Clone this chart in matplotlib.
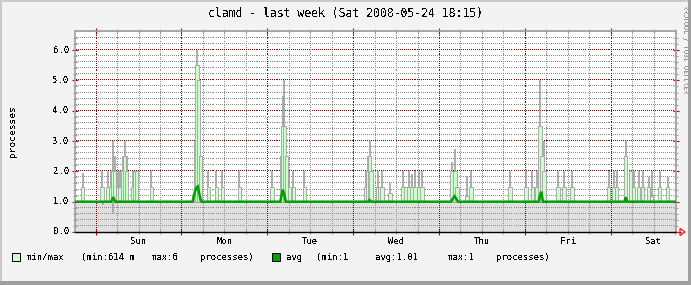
import matplotlib
matplotlib.use("Agg")
import matplotlib.pyplot as plt
from matplotlib.patches import Rectangle, Polygon
from matplotlib.lines import Line2D
import numpy as np

plt.rcParams["text.antialiased"] = False

W, H = 691, 285

# days counted from Sunday 00:00, chart ends Sat 2008-05-24 18:15
x_start, x_end = -0.24, 6.76
y_top = 6.63
day_names = ["Sun", "Mon", "Tue", "Wed", "Thu", "Fri", "Sat"]
y_ticks = [0, 1, 2, 3, 4, 5, 6]

# spikes: position (day), top of min/max area, max (gray)
spike_day = [-0.151, 0.076, 0.140, 0.174, 0.201, 0.221, 0.256, 0.279, 0.314, 0.337,
             0.360, 0.430, 0.453, 0.477, 0.651,
             1.163, 1.180, 1.198, 1.221, 1.314, 1.407, 1.477, 1.674,
             2.052, 2.163, 2.180, 2.198, 2.221, 2.256, 2.302, 2.430,
             3.151, 3.174, 3.192, 3.209, 3.291, 3.314, 3.337, 3.430, 3.581, 3.616,
             3.651, 3.686, 3.721, 3.767, 3.802,
             4.151, 4.186, 4.209, 4.326, 4.372, 4.826,
             5.012, 5.087, 5.140, 5.174, 5.198, 5.221, 5.384, 5.453, 5.547,
             5.977, 6.035, 6.070, 6.174, 6.233, 6.267, 6.326, 6.372, 6.442, 6.477,
             6.570, 6.663]
spike_top = [1.5, 1.5, 1.5, 1.5, 2.0, 2.0, 1.5, 1.5, 2.0, 2.5,
             2.0, 1.5, 2.0, 2.0, 1.5,
             2.5, 5.5, 5.0, 2.5, 1.5, 1.5, 1.5, 1.5,
             1.5, 2.0, 3.5, 3.5, 2.5, 1.5, 1.5, 1.5,
             1.5, 2.0, 2.5, 2.0, 1.5, 1.5, 1.5, 1.3, 1.5, 1.5,
             1.5, 1.5, 1.5, 1.5, 1.5,
             2.0, 2.0, 1.5, 1.2, 1.5, 1.5,
             1.5, 1.5, 1.5, 3.5, 2.5, 2.0, 1.5, 1.5, 1.5,
             1.5, 1.5, 1.5, 2.5, 2.0, 1.5, 1.5, 1.5, 1.5, 1.2,
             1.5, 1.5]
spike_max = [1.95, 2.0, 2.0, 2.0, 3.0, 2.5, 2.0, 2.0, 2.5, 3.0,
             2.5, 2.0, 2.0, 2.0, 2.0,
             3.0, 6.0, 5.5, 2.5, 2.0, 2.0, 2.0, 2.0,
             2.0, 2.5, 4.5, 5.0, 2.5, 2.0, 2.0, 2.0,
             2.0, 2.5, 3.0, 2.0, 2.0, 1.5, 2.0, 1.6, 2.0, 1.5,
             2.0, 1.9, 2.0, 2.0, 2.0,
             2.3, 2.75, 1.9, 1.85, 2.0, 2.0,
             2.0, 2.0, 2.0, 5.0, 3.0, 3.0, 2.0, 2.0, 2.0,
             2.0, 2.0, 2.0, 3.0, 2.0, 2.0, 2.0, 2.0, 1.8, 2.0,
             2.0, 1.8]

# minimum dips below 1
dip_day = [0.081, 0.198]
dip_min = [0.9, 0.62]

# avg line
avg_day = [-0.24, 0.18, 0.19, 0.205, 0.22, 0.23,
           1.13, 1.14, 1.155, 1.17, 1.19, 1.205, 1.22, 1.235,
           2.15, 2.165, 2.18, 2.20, 2.215,
           3.18, 3.19, 3.21,
           4.14, 4.16, 4.18, 4.20, 4.22,
           5.16, 5.175, 5.19, 5.21,
           6.16, 6.175, 6.19, 6.76]
avg_val = [1.0, 1.0, 1.05, 1.15, 1.05, 1.0,
           1.0, 1.15, 1.3, 1.45, 1.5, 1.3, 1.1, 1.0,
           1.0, 1.2, 1.4, 1.2, 1.0,
           1.0, 1.05, 1.0,
           1.0, 1.1, 1.18, 1.1, 1.0,
           1.0, 1.2, 1.33, 1.0,
           1.0, 1.15, 1.0, 1.0]

BG = "#f3f3f3"
GREEN_L = "#ccffcc"
GREEN_D = "#00a000"
SPIKE = "#a0a0a0"
MINOR = "#8c8c8c"
MAJOR = "#800000"
mono = "DejaVu Sans Mono"

AX_L, AX_R, AX_T, AX_B = 75, 676, 31, 232


def fx(px):
    return px / W


def fy(py):
    return 1 - py / H


fig = plt.figure(figsize=(W / 100, H / 100), dpi=100, facecolor=BG)
ax = fig.add_axes([fx(AX_L), fy(AX_B), (AX_R - AX_L) / W, (AX_B - AX_T) / H])
ax.set_facecolor("white")
ax.set_xlim(x_start, x_end)
ax.set_ylim(0, y_top)

# gray area up to the min
ax.fill_between([x_start, x_end], 0, 1.0, color="#e0e0e0", lw=0, zorder=1)

# dotted grid drawn pixel by pixel (1 on, 1 off)
dx = (x_end - x_start) / (AX_R - AX_L)
dy = y_top / (AX_B - AX_T)
xs_dots = x_start + (np.arange(0, AX_R - AX_L, 2) + 0.5) * dx
ys_dots = (np.arange(0, AX_B - AX_T, 2) + 0.5) * dy


def hgrid(v, c):
    ax.plot(xs_dots, np.full_like(xs_dots, v), ls="none", marker=",", color=c, zorder=2)


def vgrid(d, c):
    ax.plot(np.full_like(ys_dots, d), ys_dots, ls="none", marker=",", color=c, zorder=2)


for d in np.arange(-0.25, 6.8, 0.25):
    if x_start < d < x_end and abs(d - round(d)) > 1e-6:
        vgrid(d, MINOR)
for v in np.arange(0.2, y_top, 0.2):
    if abs(v - round(v)) > 1e-6:
        hgrid(v, MINOR)
for d in range(0, 7):
    vgrid(d, MAJOR)
for v in y_ticks[1:]:
    hgrid(v, MAJOR)

# min/max spikes
sd = np.array(spike_day)
st = np.array(spike_top)
sm = np.array(spike_max)
ax.vlines(sd, st, sm, color=SPIKE, lw=1.2, zorder=3)
ax.bar(sd, st - 1.0, bottom=1.0, width=0.04, color=GREEN_L,
       edgecolor=SPIKE, linewidth=0.6, zorder=3)
ax.vlines(dip_day, dip_min, 1.0, color=SPIKE, lw=1.2, zorder=3)

# avg
ax.plot(avg_day, avg_val, color=GREEN_D, lw=1.8, zorder=5, solid_joinstyle="miter")

# frame
for s in ["top", "right", "left"]:
    ax.spines[s].set_color("#a0a0a0")
    ax.spines[s].set_linewidth(1.2)
ax.spines["bottom"].set_color("black")
ax.spines["bottom"].set_linewidth(1.0)
ax.spines["bottom"].set_zorder(6)

ax.set_xticks(range(0, 7))
ax.set_xticks([d for d in np.arange(-0.25, 6.8, 0.25) if x_start < d < x_end], minor=True)
ax.set_yticks(y_ticks)
ax.set_yticks(np.arange(0.2, 6.6, 0.2), minor=True)
ax.tick_params(which="major", direction="inout", length=4, width=0.8, color="#cc0000",
               top=True, right=True, labelbottom=False, labelleft=False)
ax.tick_params(which="minor", direction="inout", length=3, width=0.8, color="#a0a0a0",
               top=True, right=True)

# tick labels
for i, name in enumerate(day_names):
    ax.text(i + 0.5, -9 / 201, name, transform=ax.get_xaxis_transform(),
            ha="center", va="center", fontsize=6.4, family=mono)
for v in y_ticks:
    ax.text(-6 / 601, v, "%.1f" % v, transform=ax.get_yaxis_transform(),
            ha="right", va="center", fontsize=6.4, family=mono)

fig.text(fx(12.5), fy(131), "processes", rotation=90, ha="center", va="center",
         fontsize=6.8, family=mono)

# title
fig.text(fx(345), fy(14), "clamd - last week (Sat 2008-05-24 18:15)",
         ha="center", va="center", fontsize=8.3, family=mono)

# credit
fig.text(fx(685), fy(5), "RRDTOOL / TOBI OETIKER", rotation=270, ha="center", va="top",
         fontsize=4.8, family=mono, color="#999999")

# x-axis arrow
fig.add_artist(Line2D([fx(676), fx(681)], [fy(232), fy(232)], color="#ff0000", lw=0.8))
fig.add_artist(Polygon([(fx(680), fy(228.5)), (fx(685), fy(232)), (fx(680), fy(235.5))],
                       closed=True, facecolor="none", edgecolor="#ff0000", lw=0.8))

# legend
fig.add_artist(Rectangle((fx(12), fy(261)), 8 / W, 8 / H, facecolor=GREEN_L,
                         edgecolor="black", lw=0.7))
fig.add_artist(Rectangle((fx(272), fy(261)), 8 / W, 8 / H, facecolor=GREEN_D,
                         edgecolor="black", lw=0.7))
legend_items = [(26.5, "min/max"), (80.9, "(min:614 m"), (151.6, "max:6"),
                (200.2, "processes)"), (286.3, "avg"), (316, "(min:1"),
                (375.6, "avg:1.01"), (447.6, "max:1"), (495.8, "processes)")]
for px, s in legend_items:
    fig.text(fx(px), fy(257.5), s, ha="left", va="center", fontsize=6.5, family=mono)

# 3d border
fig.add_artist(Rectangle((0, 0), fx(2), 1, facecolor="#cbcbcb", lw=0))
fig.add_artist(Rectangle((0, fy(2)), 1, 2 / H, facecolor="#cbcbcb", lw=0))
fig.add_artist(Rectangle((fx(688), 0), 3 / W, 1, facecolor="#9f9f9f", lw=0))
fig.add_artist(Rectangle((0, 0), 1, 4 / H, facecolor="#9f9f9f", lw=0))

fig.savefig("out.png", dpi=100, facecolor=BG)
